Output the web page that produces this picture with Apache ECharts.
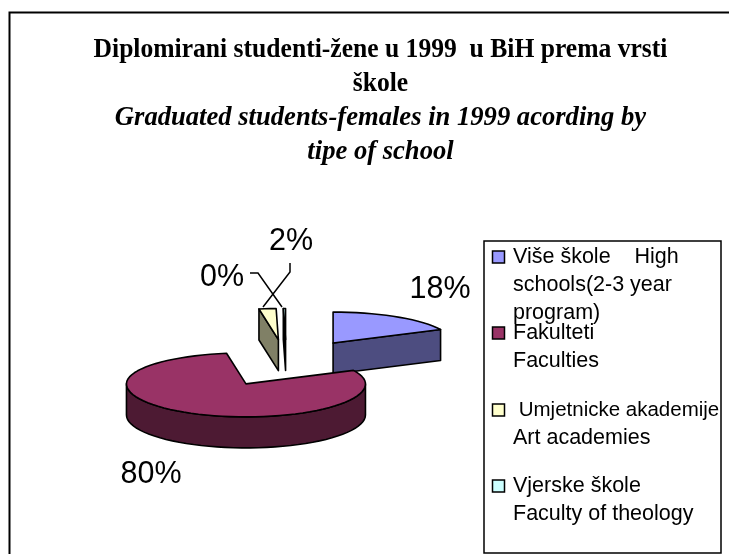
<!DOCTYPE html>
<html><head><meta charset="utf-8">
<style>html,body{margin:0;padding:0;background:#fff}#c{width:729px;height:554px}</style>
<script src="https://cdn.jsdelivr.net/npm/echarts@6/dist/echarts.min.js"></script>
</head><body><div id="c"></div>
<script>
const categories = ['Više škole    High\nschools(2-3 year\nprogram)', 'Fakulteti\nFaculties', ' Umjetnicke akademije\nArt academies', 'Vjerske škole\nFaculty of theology'];
const shares = [17.8, 79.6, 2.3, 0.3];
const topColors = ['#9999FF', '#993366', '#FFFFCC', '#CCFFFF'];
const sideColors = ['#4D4D80', '#4D1A33', '#808066', '#000000'];
const titleLines = ['Diplomirani studenti-žene u 1999  u BiH prema vrsti', 'škole', 'Graduated students-females in 1999 acording by', 'tipe of school'];

const CX = 286.4, CY = 363, RX = 119.5, RYT = 31, RYB = 33, DEPTH = 31, EXPLODE = 88;
const total = shares.reduce((a, b) => a + b, 0);
const STROKE = { stroke: '#000', lineWidth: 1.6, lineJoin: 'round' };
const proj = (cx, cy, deg, z) => {
  const a = deg * Math.PI / 180, c = Math.cos(a);
  return [cx + RX * Math.sin(a), cy - c * (c > 0 ? RYT : RYB) + (z || 0)];
};
const arcPts = (cx, cy, a, b, z) => {
  const pts = [], n = Math.max(1, Math.ceil((b - a) / 4));
  for (let i = 0; i <= n; i++) pts.push(proj(cx, cy, a + (b - a) * i / n, z));
  return pts;
};
const poly = (points, fill) => ({ type: 'polygon', shape: { points }, style: Object.assign({ fill }, STROKE) });

function sliceShape(i) {
  let start = 0;
  for (let k = 0; k < i; k++) start += shares[k] / total * 360;
  const end = start + shares[i] / total * 360, mid = (start + end) / 2 * Math.PI / 180;
  const cx = CX + EXPLODE * Math.sin(mid), cy = CY - EXPLODE * Math.cos(mid) * RYT / RX * 1.03;
  const kids = [], side = sideColors[i];
  const face = d => {
    const e = proj(cx, cy, d);
    return poly([[cx, cy], e, [e[0], e[1] + DEPTH], [cx, cy + DEPTH]], side);
  };
  if (Math.sin(start * Math.PI / 180) < -1e-6) kids.push(face(start));
  if (Math.sin(end * Math.PI / 180) > 1e-6) kids.push(face(end));
  const wa = Math.max(start, 90), wb = Math.min(end, 270);
  if (wb > wa) {
    kids.push(poly(arcPts(cx, cy, wa, wb, 0).concat(arcPts(cx, cy, wa, wb, DEPTH).reverse()), side));
  }
  kids.push(poly([[cx, cy]].concat(arcPts(cx, cy, start, end, 0)), topColors[i]));
  return { type: 'group', children: kids };
}

// painter's order: back slices first
const drawOrder = [3, 2, 0, 1];
const seriesList = drawOrder.map(i => ({
  type: 'custom', name: categories[i], coordinateSystem: 'none', silent: true,
  data: [[shares[i]]], z: 2 + drawOrder.indexOf(i),
  renderItem: () => sliceShape(i)
}));

const pct = v => Math.round(v / total * 100) + '%';
const PCT = { fontFamily: 'Liberation Sans', fontSize: 30.5, fill: '#000', align: 'center', verticalAlign: 'middle' };
const pctPos = [[440, 290], [151, 475], [291, 242], [222, 278]];
const leaders = [[[250, 273], [258, 273], [282, 307]], [[290, 263], [290, 272], [263, 307]]];

const graphic = [
  { type: 'rect', silent: true, z: 0, shape: { x: 9.5, y: 12.5, width: 730, height: 560 }, style: { fill: '#fff', stroke: '#000', lineWidth: 2 } },
  { type: 'rect', silent: true, z: 1, shape: { x: 484, y: 241, width: 237, height: 312 }, style: { fill: '#fff', stroke: '#000', lineWidth: 1.5 } }
];
const titleY = [49.5, 83.5, 118, 152];
titleLines.forEach((t, i) => graphic.push({
  type: 'text', silent: true, z: 5, x: 380.5, y: titleY[i], scaleX: i < 2 ? 0.914 : 0.95,
  style: { text: t, fontFamily: 'Liberation Serif', fontSize: 28, fontWeight: 'bold', fontStyle: i < 2 ? 'normal' : 'italic', fill: '#000', align: 'center', verticalAlign: 'middle' }
}));
shares.forEach((v, i) => graphic.push({ type: 'text', silent: true, z: 9, x: pctPos[i][0], y: pctPos[i][1], style: Object.assign({ text: pct(v) }, PCT) }));
leaders.forEach(points => graphic.push({ type: 'polyline', silent: true, z: 9, shape: { points }, style: { stroke: '#000', lineWidth: 1.5, fill: null } }));

const legendY = [257, 333, 410, 486];
categories.forEach((c, i) => {
  graphic.push({ type: 'rect', silent: true, z: 9, shape: { x: 492.5, y: legendY[i] - 6, width: 12, height: 12 }, style: { fill: topColors[i], stroke: '#000', lineWidth: 1.5 } });
  c.split('\n').forEach((line, j) => graphic.push({
    type: 'text', silent: true, z: 9, x: 513, y: legendY[i] + j * 28,
    style: { text: line, fontFamily: 'Liberation Sans', fontSize: line.length > 20 ? 20.5 : 21.5, fill: '#000', align: 'left', verticalAlign: 'middle' }
  }));
});

const chart = echarts.init(document.getElementById('c'), null, { renderer: 'canvas' });
chart.setOption({ animation: false, backgroundColor: '#fff', series: seriesList, graphic });
</script></body></html>
